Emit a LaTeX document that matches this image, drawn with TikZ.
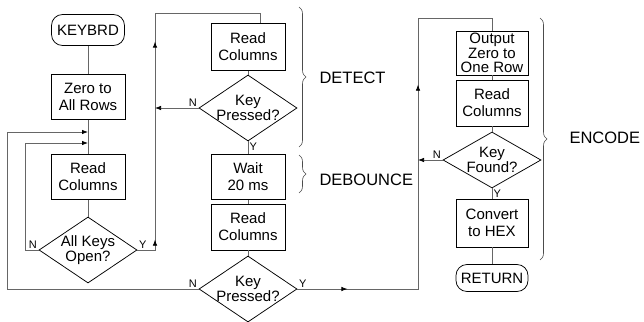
\documentclass[tikz,border=0pt]{standalone}
\usepackage{fontspec}
\setmainfont{Liberation Sans}
\usetikzlibrary{shapes.geometric,arrows.meta,decorations.markings,decorations.pathreplacing}

\begin{document}
\begin{tikzpicture}[x=1pt,y=-1pt,
		every node/.style={font=\fontsize{15}{17}\selectfont},
		block/.style={draw,line width=0.75pt,minimum width=74pt,minimum height=45pt,align=center,inner sep=1pt},
		term/.style={draw,line width=0.75pt,rounded corners=11pt,minimum width=73pt,minimum height=31pt,inner sep=1pt},
		decision/.style={draw,line width=0.75pt,diamond,minimum width=98pt,minimum height=66pt,inner sep=0pt},
		dtext/.style={align=center,font=\fontsize{15}{15}\selectfont},
		yn/.style={font=\fontsize{11}{12}\selectfont,inner sep=1.5pt},
		group/.style={font=\fontsize{16.5}{18}\selectfont,anchor=west},
		line/.style={draw=black!60,line width=0.75pt},
		arr/.style={-{Latex[length=6pt,width=4.5pt,color=black]}},
		tipat/.style={postaction={decorate,decoration={markings,mark=at position #1 with {\arrow{Latex[length=6pt,width=4.5pt,color=black]}}}}},
		brc/.style={draw=black!70,line width=0.6pt,decorate,decoration={brace,amplitude=7pt}}]
	\useasboundingbox (0,0) rectangle (644,321);
	% left column
	\node[term] (kb) at (88,30) {KEYBRD};
	\node[block] (zero) at (88,97) {Zero to\\All Rows};
	\node[block] (rc1) at (88,177) {Read\\Columns};
	\node[decision,label={[dtext]center:All Keys\\Open?}] (ako) at (88,250) {};
	% middle column
	\node[block,minimum height=47pt] (rc2) at (248,47) {Read\\Columns};
	\node[decision,label={[dtext]center:Key\\Pressed?}] (kp1) at (248,108) {};
	\node[block] (wait) at (248,177) {Wait\\20 ms};
	\node[block,minimum height=46pt] (rc3) at (248,227) {Read\\Columns};
	\node[decision,label={[dtext]center:Key\\Pressed?}] (kp2) at (248,289) {};
	% right column
	\node[block,minimum width=72pt,minimum height=44pt,font=\fontsize{15}{14.5}\selectfont] (out) at (492,53) {Output\\Zero to\\One Row};
	\node[block,minimum width=72pt,minimum height=46pt] (rc4) at (492,103) {Read\\Columns};
	\node[decision,minimum height=56pt,label={[dtext]center:Key\\Found?}] (kf) at (492,160) {};
	\node[block,minimum width=72pt,minimum height=48pt] (hex) at (492,223) {Convert\\to HEX};
	\node[term,minimum width=72pt,minimum height=27pt] (ret) at (492,278) {RETURN};
	% Y / N
	\node[yn,above left] (akoN) at (ako.west) {N};
	\node[yn,above right] (akoY) at (ako.east) {Y};
	\node[yn,above left] (kp1N) at (kp1.west) {N};
	\node[yn,below right] (kp1Y) at (kp1.south) {Y};
	\node[yn,above left] (kp2N) at (kp2.west) {N};
	\node[yn,above right] (kp2Y) at (kp2.east) {Y};
	\node[yn,above left] (kfN) at (kf.west) {N};
	\node[yn,below right] (kfY) at (kf.south) {Y};
	% connectors
	\coordinate (j1) at (88,132);
	\coordinate (j2) at (88,143);
	\coordinate (up1) at (155,13);
	\coordinate (up2) at (418,18);
	\draw[line] (kb) -- (zero);
	\draw[line] (zero) -- (rc1);
	\draw[line] (rc1) -- (ako);
	\draw[line,arr] (ako.west) -- ++(-13,0) |- (j2);
	\draw[line,arr] (kp2.west) -- ++(-191,0) |- (j1);
	\draw[line,tipat=28pt,tipat=226pt] (ako.east) -| (up1) -| ([xshift=12pt]rc2.north);
	\draw[line,arr] (kp1.west) -- (kp1.west -| up1);
	\draw[line] (rc2) -- (kp1);
	\draw[line] (kp1) -- (wait);
	\draw[line] (wait) -- (rc3);
	\draw[line] (rc3) -- (kp2);
	\draw[line,tipat=50pt,tipat=325pt] (kp2.east) -| (up2) -| (out.north);
	\draw[line,arr] (kf.west) -- (kf.west -| up2);
	\draw[line] (out) -- (rc4);
	\draw[line] (rc4) -- (kf);
	\draw[line] (kf) -- (hex);
	\draw[line] (hex) -- (ret);
	% braces
	\draw[brc] (299,7) -- (299,147);
	\draw[brc] (299,155) -- (299,193);
	\draw[brc] (540,18) -- (540,260);
	\node[group] (detect) at (316,78) {DETECT};
	\node[group] (debounce) at (316,180) {DEBOUNCE};
	\node[group] (encode) at (566,138) {ENCODE};
\end{tikzpicture}
\end{document}
